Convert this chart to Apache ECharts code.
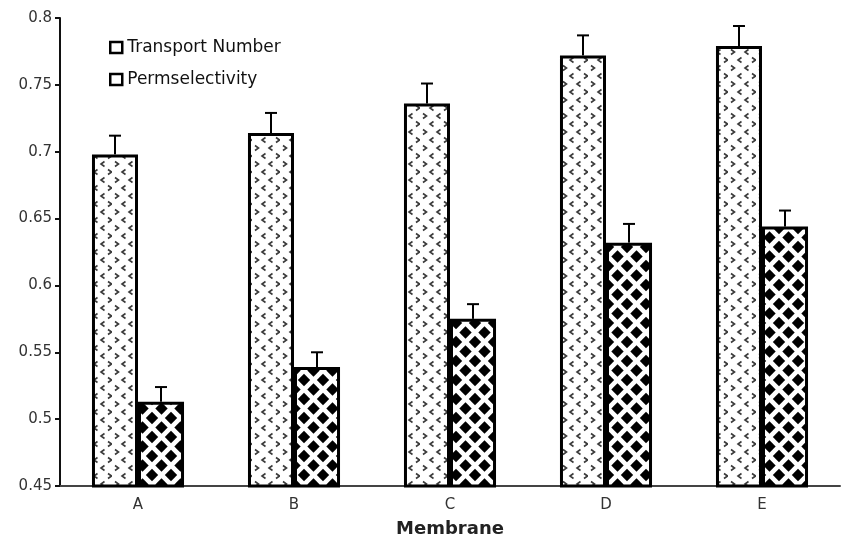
<!DOCTYPE html>
<html><head><meta charset="utf-8">
<script src="https://cdn.jsdelivr.net/npm/echarts@6/dist/echarts.min.js"></script>
<style>html,body{margin:0;padding:0;background:#fff}#c{width:848px;height:543px}</style>
</head><body><div id="c"></div>
<script>
var categories = ['A','B','C','D','E'];
var transport = [0.698, 0.714, 0.736, 0.772, 0.779];
var transportErr = [0.014, 0.015, 0.015, 0.015, 0.015];
var perm = [0.513, 0.539, 0.575, 0.632, 0.644];
var permErr = [0.011, 0.011, 0.011, 0.014, 0.012];
var yTicks = [0.45, 0.5, 0.55, 0.6, 0.65, 0.7, 0.75, 0.8];

function chevronPattern(){
  var c = document.createElement('canvas'); c.width = 28; c.height = 16;
  var g = c.getContext('2d');
  g.fillStyle = '#fff'; g.fillRect(0,0,28,16);
  g.strokeStyle = '#3a3a3a'; g.lineWidth = 1.6;
  function gt(x,y){ g.beginPath(); g.moveTo(x,y); g.lineTo(x+3.5,y+2.5); g.lineTo(x,y+5); g.stroke(); }
  function lt(x,y){ g.beginPath(); g.moveTo(x+3.5,y); g.lineTo(x,y+2.5); g.lineTo(x+3.5,y+5); g.stroke(); }
  gt(3,1.5); lt(17,1.5); lt(10,9.5); gt(24,9.5);
  return c;
}
function diamondPattern(){
  var w = 19, h = 19, r = 6.2;
  var c = document.createElement('canvas'); c.width = w; c.height = h;
  var g = c.getContext('2d');
  g.fillStyle = '#fff'; g.fillRect(0,0,w,h);
  g.fillStyle = '#000';
  function d(x,y){ g.beginPath(); g.moveTo(x,y-r); g.lineTo(x+r,y); g.lineTo(x,y+r); g.lineTo(x-r,y); g.closePath(); g.fill(); }
  d(w/2,h/2); d(0,0); d(w,0); d(0,h); d(w,h);
  return c;
}

function errSeries(name, vals, errs, idx){
  return {
    type: 'custom', name: name + ' err', z: 5, silent: true,
    data: vals.map(function(v,i){ return [i, v, v + errs[i]]; }),
    renderItem: function(params, api){
      var base = api.coord([api.value(0), api.value(1)]);
      var top = api.coord([api.value(0), api.value(2)]);
      var bw = api.size([1,0])[0];
      var barW = bw * 0.59 / 2;
      var x = base[0] + (idx === 0 ? -barW/2 : barW/2);
      return { type: 'group', children: [
        { type: 'line', shape: {x1:x, y1:base[1], x2:x, y2:top[1]}, style: {stroke:'#000', lineWidth:2} },
        { type: 'line', shape: {x1:x-6, y1:top[1], x2:x+6, y2:top[1]}, style: {stroke:'#000', lineWidth:2} }
      ]};
    }
  };
}

var chart = echarts.init(document.getElementById('c'));
chart.setOption({
  animation: false,
  textStyle: { fontFamily: 'DejaVu Sans' },
  grid: { left: 60, right: 8, top: 18, bottom: 53 },
  legend: {
    orient: 'vertical', left: 104, top: 34, itemGap: 15,
    itemWidth: 12, itemHeight: 11, icon: 'rect',
    itemStyle: { color: '#fff', borderColor: '#000', borderWidth: 2.5, decal: 'none' },
    textStyle: { fontSize: 17, color: '#111', fontFamily: 'DejaVu Sans' },
    data: ['Transport Number', 'Permselectivity']
  },
  xAxis: {
    type: 'category', data: categories,
    axisLine: { lineStyle: { color: '#444', width: 2 } },
    axisTick: { show: false },
    axisLabel: { fontSize: 15, color: '#333', margin: 12 },
    name: 'Membrane', nameLocation: 'middle', nameGap: 34,
    nameTextStyle: { fontSize: 18, fontWeight: 'bold', color: '#222' }
  },
  yAxis: {
    type: 'value', min: yTicks[0], max: yTicks[yTicks.length-1], interval: 0.05,
    splitLine: { show: false },
    axisLine: { show: true, lineStyle: { color: '#111', width: 2 } },
    axisTick: { show: true, length: 5, lineStyle: { color: '#111', width: 2 } },
    axisLabel: { fontSize: 15, color: '#333', margin: 8,
      formatter: function(v){ return String(+v.toFixed(2)); } }
  },
  series: [
    { type: 'bar', name: 'Transport Number', data: transport, barGap: '0%', barCategoryGap: '41%',
      itemStyle: { color: { image: chevronPattern(), repeat: 'repeat' }, borderColor: '#000', borderWidth: 3 } },
    { type: 'bar', name: 'Permselectivity', data: perm,
      itemStyle: { color: { image: diamondPattern(), repeat: 'repeat' }, borderColor: '#000', borderWidth: 3 } },
    errSeries('Transport Number', transport, transportErr, 0),
    errSeries('Permselectivity', perm, permErr, 1)
  ]
});
</script></body></html>
